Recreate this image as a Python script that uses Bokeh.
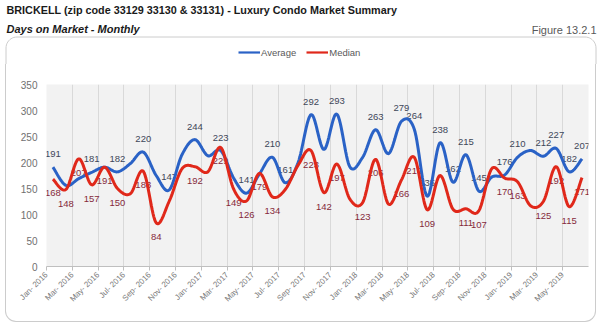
import numpy as np
from bokeh.plotting import figure
from bokeh.layouts import column
from bokeh.models import FixedTicker, Legend, LegendItem, Range1d
from bokeh.core.properties import value
from bokeh.embed import file_html
from bokeh.resources import INLINE

# ---------------- data ----------------
title_text = "BRICKELL (zip code 33129 33130 & 33131) - Luxury Condo Market Summary"
subtitle_text = "Days on Market - Monthly"
figure_text = "Figure 13.2.1"
series_names = ["Average", "Median"]

tick_labels = ["Jan- 2016", "Mar- 2016", "May- 2016", "Jul- 2016", "Sep- 2016", "Nov- 2016",
               "Jan- 2017", "Mar- 2017", "May- 2017", "Jul- 2017", "Sep- 2017", "Nov- 2017",
               "Jan- 2018", "Mar- 2018", "May- 2018", "Jul- 2018", "Sep- 2018", "Nov- 2018",
               "Jan- 2019", "Mar- 2019", "May- 2019"]

average = [191, 156, 169, 181, 191, 182, 198, 220, 175, 147, 215, 244,
           213, 223, 170, 141, 178, 210, 161, 200, 292, 225, 293, 192,
           210, 263, 217, 279, 264, 135, 238, 162, 215, 145, 172, 176,
           210, 223, 212, 227, 182, 207]

median = [168, 148, 207, 157, 191, 150, 140, 183, 84, 125, 188, 192,
          182, 229, 149, 126, 179, 134, 148, 195, 223, 142, 197, 130,
          123, 206, 120, 166, 210, 109, 175, 110, 111, 107, 188, 170,
          163, 117, 125, 192, 115, 171]

avg_label_idx = [0, 3, 5, 7, 9, 11, 13, 15, 17, 18, 20, 22, 25, 27, 28, 29, 30, 31,
                 32, 33, 35, 36, 38, 39, 40, 41]
med_label_idx = [0, 1, 2, 3, 4, 5, 7, 8, 11, 13, 14, 15, 16, 17, 20, 21, 22, 24, 25,
                 27, 28, 29, 32, 33, 35, 36, 38, 39, 40, 41]

y_ticks = [0, 50, 100, 150, 200, 250, 300, 350]

# ---------------- helpers ----------------
FONT = value("Liberation Sans")
BLUE = "#2a62c6"
RED = "#e0281a"
BOX_COLOR = "#cccccc"


def smooth(xs, ys, steps=16):
    xs = np.asarray(xs, float)
    ys = np.asarray(ys, float)
    n = len(xs)
    ox, oy = [], []
    for i in range(n - 1):
        p0 = max(i - 1, 0)
        p3 = min(i + 2, n - 1)
        c1x = xs[i] + (xs[i + 1] - xs[p0]) / 6.0
        c1y = ys[i] + (ys[i + 1] - ys[p0]) / 6.0
        c2x = xs[i + 1] - (xs[p3] - xs[i]) / 6.0
        c2y = ys[i + 1] - (ys[p3] - ys[i]) / 6.0
        t = np.linspace(0, 1, steps, endpoint=(i == n - 2))
        a = (1 - t) ** 3
        b = 3 * (1 - t) ** 2 * t
        c = 3 * (1 - t) * t ** 2
        d = t ** 3
        ox.extend(a * xs[i] + b * c1x + c * c2x + d * xs[i + 1])
        oy.extend(a * ys[i] + b * c1y + c * c2y + d * ys[i + 1])
    return ox, oy


n = len(average)
xpos = np.arange(n) + 0.5

W = 601
HEAD_H = 64
BOX_L, BOX_R, BOX_T, BOX_B = 5, 596, 36, 322
RADIUS = 11
FL, FR, FT, FB = 45, 587, 84, 266

# ---------------- heading strip (titles, legend, top of the box) ----------------
head = figure(width=W, height=HEAD_H, output_backend="svg", toolbar_location=None,
              x_range=Range1d(0, W), y_range=Range1d(HEAD_H, 0),
              x_axis_type=None, y_axis_type=None, min_border=0, title=None)
head.frame_align = False
head.outline_line_color = None
head.grid.visible = False
head.background_fill_color = None
head.border_fill_color = None

head.text(x=[6], y=[9], text=[title_text], text_font=FONT, text_font_size="10.8px",
          text_font_style="bold", text_color="#1a1a1a", text_baseline="middle")
head.text(x=[6], y=[28], text=[subtitle_text], text_font=FONT, text_font_size="11px",
          text_font_style="bold italic", text_color="#1a1a1a", text_baseline="middle")
head.text(x=[596], y=[29], text=[figure_text], text_font=FONT, text_font_size="11px",
          text_color="#595959", text_align="right", text_baseline="middle")

# top part of the rounded frame box
ang = np.linspace(np.pi, 1.5 * np.pi, 12)
left_arc_x = BOX_L + RADIUS + RADIUS * np.cos(ang)
left_arc_y = BOX_T + RADIUS + RADIUS * np.sin(ang)
ang2 = np.linspace(1.5 * np.pi, 2 * np.pi, 12)
right_arc_x = BOX_R - RADIUS + RADIUS * np.cos(ang2)
right_arc_y = BOX_T + RADIUS + RADIUS * np.sin(ang2)
bx = np.concatenate([[BOX_L + 0.5], left_arc_x + 0.5, right_arc_x - 0.5, [BOX_R - 0.5]])
by = np.concatenate([[HEAD_H + 1], left_arc_y + 0.5, right_arc_y + 0.5, [HEAD_H + 1]])
head.line(bx, by, line_color=BOX_COLOR, line_width=1)

# legend renderers: the series themselves, which fall outside this strip's view
h_avg = head.line(xpos, average, line_color=BLUE, line_width=2.2)
h_med = head.line(xpos, median, line_color=RED, line_width=2.2)
legend = Legend(items=[LegendItem(label=series_names[0], renderers=[h_avg]),
                       LegendItem(label=series_names[1], renderers=[h_med])],
                orientation="horizontal", location=(238, HEAD_H - 58),
                background_fill_alpha=0, border_line_color=None,
                padding=0, margin=0, spacing=10, glyph_width=22, glyph_height=12,
                label_standoff=1, label_text_font="Liberation Sans",
                label_text_font_size="9.5px", label_text_color="#595959",
                label_height=12)
head.add_layout(legend, "center")

# ---------------- main chart ----------------
PW = BOX_R - BOX_L
PH = BOX_B - HEAD_H

p = figure(width=PW, height=PH, output_backend="svg", toolbar_location=None,
           x_range=Range1d(0, n), y_range=Range1d(0, 350), title=None,
           min_border_left=FL - BOX_L, min_border_right=BOX_R - FR,
           min_border_top=FT - HEAD_H, min_border_bottom=BOX_B - FB,
           margin=(0, 0, 0, BOX_L))
p.frame_align = False
p.styles = {"border-left": "1px solid " + BOX_COLOR, "border-right": "1px solid " + BOX_COLOR,
            "border-bottom": "1px solid " + BOX_COLOR,
            "border-bottom-left-radius": "%dpx" % RADIUS,
            "border-bottom-right-radius": "%dpx" % RADIUS,
            "box-sizing": "border-box", "overflow": "hidden"}
p.background_fill_color = "#f2f2f2"
p.border_fill_color = None
p.outline_line_color = None

# axes
p.xaxis.ticker = FixedTicker(ticks=list(range(0, n, 2)))
p.xaxis.major_label_overrides = {k * 2: lab for k, lab in enumerate(tick_labels)}
p.xaxis.major_label_orientation = np.pi / 4
p.xaxis.major_label_text_font = "Liberation Sans"
p.xaxis.major_label_text_font_size = "8px"
p.xaxis.major_label_text_color = "#7a7a7a"
p.xaxis.axis_line_color = "#bfbfbf"
p.xaxis.major_tick_line_color = "#bfbfbf"
p.xaxis.major_tick_out = 4
p.xaxis.major_tick_in = 0
p.xaxis.minor_tick_line_color = None
p.xaxis.major_label_standoff = 3

p.yaxis.ticker = FixedTicker(ticks=y_ticks)
p.yaxis.axis_line_color = None
p.yaxis.major_tick_line_color = None
p.yaxis.minor_tick_line_color = None
p.yaxis.major_label_text_font = "Liberation Sans"
p.yaxis.major_label_text_font_size = "10px"
p.yaxis.major_label_text_color = "#707070"
p.yaxis.major_label_standoff = 3

p.xgrid.ticker = FixedTicker(ticks=list(range(0, n, 2)))
p.xgrid.grid_line_color = "#d9d9d9"
p.ygrid.grid_line_color = None

# data labels (drawn beneath the lines)
p.text(x=[xpos[i] for i in avg_label_idx], y=[average[i] for i in avg_label_idx],
       text=[str(average[i]) for i in avg_label_idx], text_font=FONT,
       text_font_size="9.5px", text_color="#3e4759", text_align="center",
       text_baseline="middle", y_offset=-13)
p.text(x=[xpos[i] for i in med_label_idx], y=[median[i] for i in med_label_idx],
       text=[str(median[i]) for i in med_label_idx], text_font=FONT,
       text_font_size="9.5px", text_color="#862a3b", text_align="center",
       text_baseline="middle", y_offset=14)

ax, ay = smooth(xpos, average)
mx, my = smooth(xpos, median)
p.line(ax, ay, line_color=BLUE, line_width=3)
p.line(mx, my, line_color=RED, line_width=3)

layout = column(head, p, spacing=0)
open("out.html", "w").write(file_html(layout, INLINE))
